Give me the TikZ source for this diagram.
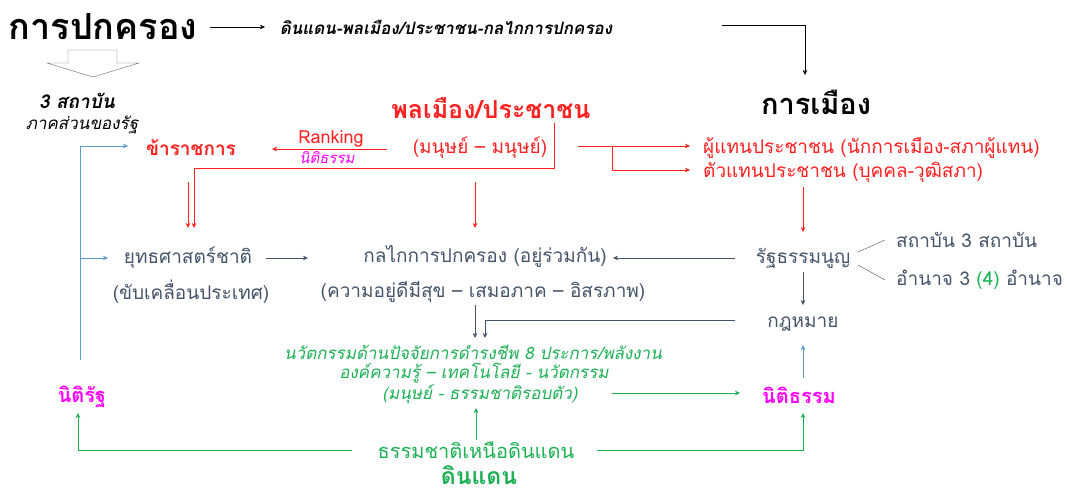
\documentclass[tikz,border=0pt]{standalone}
\usepackage{fontspec}
\setmainfont{Loma}[Script=Thai]
\newfontfamily\thaiit{Loma}[Script=Thai,FakeSlant=0.2]
\usetikzlibrary{arrows.meta}
\definecolor{tred}{HTML}{FF2020}
\definecolor{tblue}{HTML}{44546A}
\definecolor{tgreen}{HTML}{1DB054}
\definecolor{tmag}{HTML}{FF00FF}
\definecolor{lblue}{HTML}{5B9BD5}
\begin{document}
\begin{tikzpicture}[x=1pt,y=-1pt,
  >={Stealth[length=5pt,width=4.5pt]},
  txt/.style={inner sep=0pt,font=\fontsize{19}{22}\selectfont},
  big/.style={inner sep=0pt,font=\fontsize{36}{40}\selectfont\bfseries},
  redtxt/.style={txt,text=tred},
  bluetxt/.style={txt,text=tblue},
  greentxt/.style={inner sep=0pt,text=tgreen,font=\fontsize{17}{20}\selectfont\thaiit},
  magtxt/.style={inner sep=0pt,text=tmag,font=\fontsize{20}{23}\selectfont\bfseries},
  redline/.style={draw=tred,thin},
  blueline/.style={draw=tblue,thin},
  greenline/.style={draw=tgreen,thin},
  lbline/.style={draw=lblue,thin}]
\useasboundingbox (0,0) rectangle (1067,497);
% nodes
\node[big] (gov) at (103,27) {การปกครอง};
\node[inner sep=0pt,font=\fontsize{17}{20}\selectfont\thaiit\bfseries] (govsub) at (446,27) {ดินแดน-พลเมือง/ประชาชน-กลไกการปกครอง};
\node[inner sep=0pt,font=\fontsize{29}{32}\selectfont\bfseries] (polit) at (816,102) {การเมือง};
\node[inner sep=0pt,font=\fontsize{19}{22}\selectfont\thaiit\bfseries] (s3) at (77,101) {3 สถาบัน};
\node[inner sep=0pt,font=\fontsize{17}{20}\selectfont\thaiit] (s3b) at (82,125) {ภาคส่วนของรัฐ};
\node[redtxt,font=\fontsize{19}{22}\selectfont\bfseries] (kha) at (191,148) {ข้าราชการ};
\node[redtxt,font=\fontsize{18}{21}\selectfont] (rank) at (331,139) {Ranking};
\node[inner sep=0pt,text=tmag,font=\fontsize{15}{17}\selectfont\thaiit] (nitisub) at (327,158) {นิติธรรม};
\node[redtxt,font=\fontsize{25}{29}\selectfont\bfseries] (pol) at (491,108) {พลเมือง/ประชาชน};
\node[redtxt] (pol2) at (480,148) {(มนุษย์ – มนุษย์)};
\node[redtxt,anchor=west] (rep1) at (703,148) {ผู้แทนประชาชน (นักการเมือง-สภาผู้แทน)};
\node[redtxt,anchor=west] (rep2) at (703,172) {ตัวแทนประชาชน (บุคคล-วุฒิสภา)};
\node[bluetxt] (rat) at (803,258) {รัฐธรรมนูญ};
\node[bluetxt,anchor=west] (inst1) at (896,240) {สถาบัน 3 สถาบัน};
\node[bluetxt,anchor=west] (inst2) at (896,280) {อำนาจ 3 \textcolor{tgreen}{(4)} อำนาจ};
\node[bluetxt] (mech) at (485,256) {กลไกการปกครอง (อยู่ร่วมกัน)};
\node[bluetxt] (mech2) at (483,292) {(ความอยู่ดีมีสุข – เสมอภาค – อิสรภาพ)};
\node[bluetxt] (yut) at (188,258) {ยุทธศาสตร์ชาติ};
\node[bluetxt] (yut2) at (191,292) {(ขับเคลื่อนประเทศ)};
\node[bluetxt] (law) at (803,324) {กฎหมาย};
\node[greentxt] (inn1) at (473,352) {นวัตกรรมด้านปัจจัยการดำรงชีพ 8 ประการ/พลังงาน};
\node[greentxt] (inn2) at (474,373) {องค์ความรู้ – เทคโนโลยี - นวัตกรรม};
\node[greentxt] (inn3) at (480,394) {(มนุษย์ - ธรรมชาติรอบตัว)};
\node[magtxt] (niti) at (799,395) {นิติธรรม};
\node[magtxt] (nitirat) at (82,397) {นิติรัฐ};
\node[inner sep=0pt,text=tgreen,font=\fontsize{20}{23}\selectfont] (natur) at (476,450) {ธรรมชาติเหนือดินแดน};
\node[inner sep=0pt,text=tgreen,font=\fontsize{23}{27}\selectfont\bfseries] (land) at (479,475) {ดินแดน};
% block arrow
\draw[gray!80!black,fill=white] (68,50) -- (117,50) -- (117,63) -- (139,63) -- (93,77) -- (47,63) -- (68,63) -- cycle;
% coordinates
\coordinate (c1) at (722,25);
\coordinate (p1) at (805,75);
\coordinate (r1) at (554,123);
\coordinate (r1b) at (194,168);
\coordinate (r2) at (188,182);
\coordinate (r3) at (475,182);
\coordinate (r4) at (578,146);
\coordinate (r5) at (612,146);
\coordinate (r6) at (803,187);
\coordinate (b1) at (80,360);
\coordinate (b2) at (735,258);
\coordinate (b3) at (735,320);
\coordinate (b4) at (803,378);
\coordinate (g1) at (352,450);
\coordinate (g2) at (597,450);
\coordinate (g3) at (612,393);
% connectors
\draw[->,black] (210,27) -- (265,27);
\draw[->,black] (c1) -| (p1);
\draw[->,redline] (387,149) -- (272,149);
\draw[->,redline] (r1) |- (r1b) -- (194,228);
\draw[->,redline] (r2) -- (188,228);
\draw[->,redline] (r3) -- (475,228);
\draw[->,redline] (r4) -- (690,146);
\draw[->,redline] (r5) |- (690,170);
\draw[->,redline] (r6) -- (803,232);
\draw[blueline] (858,252) -- (885,240);
\draw[blueline] (858,265) -- (885,280);
\draw[->,blueline] (b2) -- (613,258);
\draw[->,blueline] (266,258) -- (308,258);
\draw[->,blueline] (803,272) -- (803,305);
\draw[->,blueline] (475,305) -- (475,338);
\draw[->,blueline] (b3) -| (485,338);
\draw[->,lbline] (b1) |- (128,146);
\draw[->,lbline] (80,258) -- (108,258);
\draw[->,lbline] (b4) -- (803,345);
\draw[->,greenline] (g3) -- (740,393);
\draw[->,greenline] (g1) -| (78,413);
\draw[->,greenline] (g2) -| (803,413);
\draw[->,greenline] (476,440) -- (476,408);
\end{tikzpicture}
\end{document}
